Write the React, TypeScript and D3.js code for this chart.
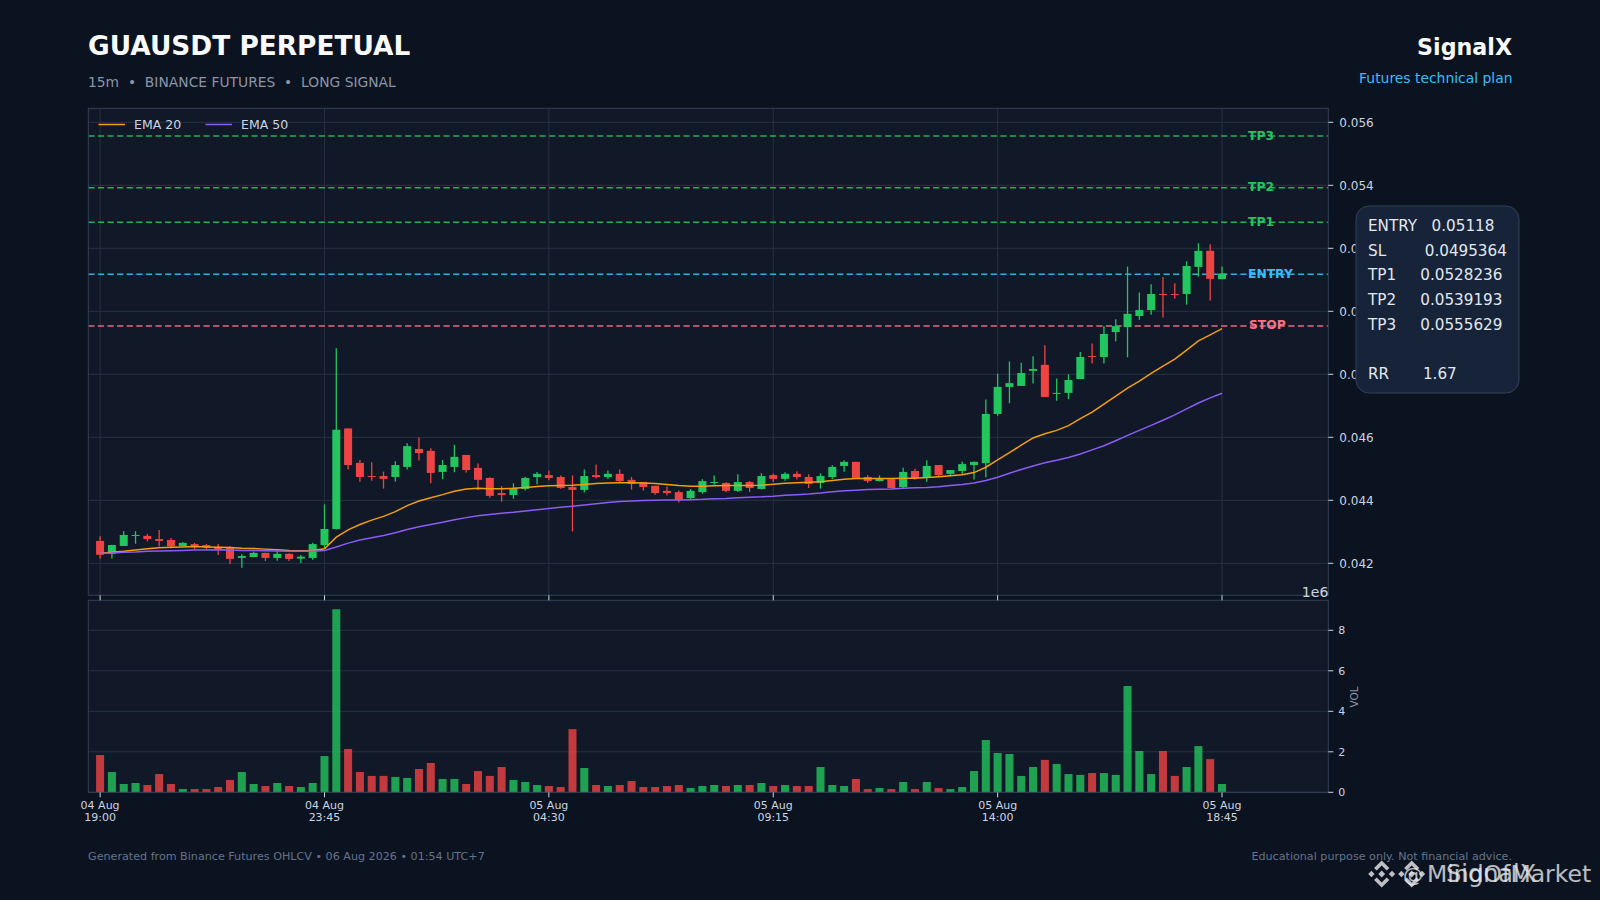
import { useEffect, useRef } from "react";
import * as d3 from "d3";

const opens = [
  0.04271, 0.0423, 0.04255, 0.04288, 0.04287, 0.04277, 0.04274, 0.04255, 0.04261, 0.04258, 0.04252, 0.04252,
  0.04217, 0.0422, 0.04233, 0.04217, 0.0423, 0.04215, 0.04217, 0.04258, 0.04309, 0.04628, 0.04519, 0.04477,
  0.04477, 0.04474, 0.04506, 0.04563, 0.04557, 0.0449, 0.04506, 0.04544, 0.04503, 0.04471, 0.04423, 0.04417,
  0.04436, 0.04474, 0.0448, 0.04474, 0.04442, 0.04433, 0.0448, 0.04474, 0.04484, 0.04465, 0.04458, 0.04446,
  0.0443, 0.04426, 0.04407, 0.04426, 0.04455, 0.04455, 0.0443, 0.04458, 0.04436, 0.0448, 0.04468, 0.04484,
  0.04474, 0.04455, 0.04474, 0.04509, 0.04522, 0.04474, 0.04461, 0.04467, 0.04442, 0.04493, 0.04471, 0.04512,
  0.04484, 0.04493, 0.04512, 0.04518, 0.04674, 0.0476, 0.04763, 0.04811, 0.0483, 0.04738, 0.04741, 0.04785,
  0.04858, 0.04855, 0.04934, 0.0495, 0.04985, 0.05004, 0.05055, 0.05055, 0.05055, 0.05141, 0.05192, 0.05102,
];
const highs = [
  0.04286, 0.04259, 0.04302, 0.04302, 0.04293, 0.04306, 0.0428, 0.04267, 0.04265, 0.04261, 0.04261, 0.04254,
  0.04229, 0.04237, 0.04234, 0.04238, 0.04232, 0.04226, 0.04265, 0.04387, 0.04883, 0.04628, 0.04528, 0.04521,
  0.04491, 0.04524, 0.04581, 0.04599, 0.04565, 0.04528, 0.04576, 0.04544, 0.04517, 0.04473, 0.04445, 0.04454,
  0.04475, 0.0449, 0.04495, 0.04479, 0.04479, 0.04498, 0.04514, 0.04495, 0.04498, 0.04474, 0.04458, 0.04446,
  0.04444, 0.04431, 0.04436, 0.04467, 0.04479, 0.04458, 0.04483, 0.04461, 0.04486, 0.04484, 0.04489, 0.04492,
  0.04483, 0.04486, 0.04511, 0.04527, 0.04522, 0.0448, 0.04479, 0.04467, 0.04503, 0.045, 0.04527, 0.04512,
  0.04496, 0.04523, 0.04523, 0.0472, 0.04802, 0.04841, 0.04837, 0.04857, 0.04892, 0.04787, 0.048, 0.04871,
  0.04898, 0.04953, 0.04975, 0.05142, 0.0506, 0.05086, 0.05109, 0.05089, 0.05159, 0.05216, 0.05213, 0.05142,
];
const lows = [
  0.04215, 0.04215, 0.04255, 0.04262, 0.04269, 0.04253, 0.04247, 0.04254, 0.04243, 0.04242, 0.04226, 0.04198,
  0.04186, 0.04219, 0.04207, 0.04208, 0.04207, 0.04201, 0.04211, 0.04245, 0.04307, 0.04498, 0.04459, 0.04462,
  0.04437, 0.0446, 0.04498, 0.04526, 0.04454, 0.04467, 0.04489, 0.04488, 0.04433, 0.04408, 0.04396, 0.04405,
  0.04431, 0.04451, 0.04464, 0.04437, 0.04301, 0.04425, 0.04469, 0.04468, 0.04458, 0.04434, 0.04431, 0.04418,
  0.04415, 0.04393, 0.04403, 0.04421, 0.04449, 0.04426, 0.04426, 0.04426, 0.04435, 0.04458, 0.04462, 0.04466,
  0.04439, 0.04437, 0.04468, 0.04491, 0.04468, 0.04455, 0.0446, 0.04438, 0.04439, 0.04465, 0.04459, 0.04475,
  0.04476, 0.0448, 0.04466, 0.04473, 0.04668, 0.04708, 0.04763, 0.04771, 0.04728, 0.04716, 0.04721, 0.04785,
  0.04834, 0.04834, 0.04905, 0.04854, 0.04973, 0.04989, 0.0498, 0.0504, 0.05021, 0.0511, 0.05034, 0.05102,
];
const closes = [
  0.04227, 0.04258, 0.0429, 0.0429, 0.04277, 0.04271, 0.04254, 0.04265, 0.04254, 0.0425, 0.04245, 0.04214,
  0.04223, 0.04233, 0.04217, 0.0423, 0.04214, 0.04221, 0.04261, 0.04309, 0.04624, 0.04512, 0.04474, 0.04474,
  0.04468, 0.04512, 0.04572, 0.0455, 0.04487, 0.04512, 0.04538, 0.04496, 0.04465, 0.04414, 0.04417, 0.04439,
  0.04471, 0.04484, 0.04471, 0.04439, 0.04433, 0.04477, 0.04474, 0.04484, 0.04461, 0.04452, 0.04442, 0.04423,
  0.04423, 0.04401, 0.0443, 0.04461, 0.04458, 0.0443, 0.04458, 0.04439, 0.04477, 0.04468, 0.04484, 0.04474,
  0.04452, 0.04477, 0.04506, 0.04522, 0.04471, 0.04461, 0.04468, 0.04439, 0.0449, 0.04471, 0.04509, 0.0448,
  0.04496, 0.04515, 0.04522, 0.04674, 0.0476, 0.04772, 0.04804, 0.04817, 0.04728, 0.04741, 0.04782, 0.04855,
  0.04855, 0.04928, 0.04953, 0.04992, 0.05004, 0.05055, 0.05053, 0.05052, 0.05144, 0.05192, 0.05103, 0.0512,
];
const ema20 = [
  0.04232, 0.04235, 0.04238, 0.04242, 0.04246, 0.04249, 0.04251, 0.04252, 0.04253, 0.04252, 0.04251, 0.0425,
  0.04248, 0.04247, 0.04245, 0.04243, 0.04241, 0.0424, 0.04241, 0.04246, 0.04283, 0.04306, 0.04323, 0.04337,
  0.04349, 0.04364, 0.04383, 0.04398, 0.04408, 0.04418, 0.04429, 0.04436, 0.04438, 0.04437, 0.04437, 0.04438,
  0.04441, 0.04444, 0.04446, 0.04447, 0.04448, 0.0445, 0.04453, 0.04455, 0.04456, 0.04456, 0.04455, 0.04453,
  0.0445, 0.04447, 0.04445, 0.04445, 0.04446, 0.04447, 0.04447, 0.04447, 0.04448, 0.04451, 0.04454, 0.04456,
  0.04457, 0.04459, 0.04463, 0.04467, 0.04469, 0.04469, 0.04469, 0.04469, 0.0447, 0.0447, 0.04472, 0.04475,
  0.04478, 0.04481, 0.04488, 0.04505, 0.04528, 0.04551, 0.04575, 0.04598, 0.04611, 0.04622, 0.04637, 0.04659,
  0.0468, 0.04705, 0.04731, 0.04756, 0.04778, 0.04803, 0.04826, 0.04848, 0.04877, 0.04906, 0.04925, 0.04945,
];
const ema50 = [
  0.04232, 0.04233, 0.04235, 0.04236, 0.04238, 0.04239, 0.0424, 0.04241, 0.04242, 0.04242, 0.04243, 0.04242,
  0.04241, 0.04241, 0.0424, 0.04239, 0.04238, 0.04238, 0.04238, 0.04241, 0.04252, 0.04264, 0.04274, 0.04281,
  0.04288, 0.04297, 0.04307, 0.04316, 0.04323, 0.0433, 0.04338, 0.04345, 0.04351, 0.04355, 0.04359, 0.04362,
  0.04366, 0.0437, 0.04374, 0.04378, 0.04381, 0.04385, 0.04389, 0.04393, 0.04396, 0.04398, 0.04399, 0.044,
  0.04401, 0.04401, 0.04402, 0.04403, 0.04405, 0.04406, 0.04408, 0.0441, 0.04411, 0.04413, 0.04416, 0.04418,
  0.0442, 0.04423, 0.04427, 0.0443, 0.04432, 0.04434, 0.04435, 0.04436, 0.04438, 0.0444, 0.04441, 0.04443,
  0.04447, 0.0445, 0.04455, 0.04463, 0.04473, 0.04486, 0.04498, 0.04509, 0.04519, 0.04527, 0.04536, 0.04547,
  0.0456, 0.04573, 0.04589, 0.04606, 0.04622, 0.04638, 0.04654, 0.04671, 0.0469, 0.04709, 0.04725, 0.0474,
];
const volumes = [
  1.84, 1.0, 0.41, 0.46, 0.36, 0.9, 0.41, 0.16, 0.16, 0.16, 0.26, 0.61,
  1.0, 0.41, 0.31, 0.46, 0.31, 0.26, 0.46, 1.79, 9.04, 2.14, 1.0, 0.81,
  0.81, 0.76, 0.71, 1.15, 1.45, 0.66, 0.66, 0.41, 1.05, 0.81, 1.25, 0.61,
  0.51, 0.36, 0.31, 0.26, 3.12, 1.2, 0.36, 0.31, 0.36, 0.56, 0.26, 0.26,
  0.31, 0.36, 0.21, 0.31, 0.36, 0.31, 0.36, 0.36, 0.46, 0.31, 0.36, 0.31,
  0.31, 1.25, 0.36, 0.31, 0.66, 0.16, 0.21, 0.16, 0.51, 0.16, 0.51, 0.21,
  0.16, 0.26, 1.05, 2.58, 1.94, 1.89, 0.81, 1.25, 1.6, 1.4, 0.9, 0.86,
  0.95, 0.95, 0.86, 5.25, 2.04, 0.9, 2.04, 0.81, 1.25, 2.28, 1.64, 0.41,
];

const xTickIndex = [0, 19, 38, 57, 76, 95];
const xTickDates = ["04 Aug", "04 Aug", "05 Aug", "05 Aug", "05 Aug", "05 Aug"];
const xTickTimes = ["19:00", "23:45", "04:30", "09:15", "14:00", "18:45"];
const priceTicks = [0.042, 0.044, 0.046, 0.048, 0.05, 0.052, 0.054, 0.056];
const volTicks = [0, 2, 4, 6, 8];

const levelNames = ["TP3", "TP2", "TP1", "ENTRY", "STOP"];
const levelValues = [0.0555629, 0.0539193, 0.0528236, 0.05118, 0.0495364];
const levelColors = ["#22c55e", "#22c55e", "#22c55e", "#38bdf8", "#fb7185"];

const panelLines = [
  "ENTRY   0.05118",
  "SL        0.0495364",
  "TP1     0.0528236",
  "TP2     0.0539193",
  "TP3     0.0555629",
  "",
  "RR       1.67",
];

const COLORS = {
  bg: "#0b1220",
  axes: "#111827",
  grid: "#263243",
  spine: "#334155",
  tick: "#cbd5e1",
  up: "#22c55e",
  down: "#ef4444",
  ema20: "#f59e0b",
  ema50: "#8b5cf6",
  sub: "#8b95a6",
  foot: "#64748b",
};

const FONT = "'DejaVu Sans', sans-serif";
const W = 1600;
const H = 900;

export default function App() {
  const svgRef = useRef<SVGSVGElement>(null);

  useEffect(() => {
    if (!svgRef.current) return;
    const svg = d3.select(svgRef.current);
    svg.selectAll("*").remove();
    svg.attr("font-family", FONT);

    svg.append("rect").attr("width", W).attr("height", H).attr("fill", COLORS.bg);

    const left = 88.3;
    const right = 1328.3;
    const main = { top: 108.3, bottom: 595.3 };
    const vol = { top: 600.3, bottom: 792.3 };

    const x = d3.scaleLinear().domain([-1, 104]).range([left, right]);
    const y = d3.scaleLinear().domain([0.042, 0.056]).range([563.3, 122.3]);
    const yv = d3.scaleLinear().domain([0, 8]).range([vol.bottom, 630.3]);

    const isUp = (i: number) => closes[i] >= opens[i];
    const idx = d3.range(opens.length);
    const candleW = 0.68 * (x(1) - x(0));

    // Panels
    svg.append("rect").attr("x", left).attr("y", main.top).attr("width", right - left).attr("height", main.bottom - main.top).attr("fill", COLORS.axes);
    svg.append("rect").attr("x", left).attr("y", vol.top).attr("width", right - left).attr("height", vol.bottom - vol.top).attr("fill", COLORS.axes);

    // Grid
    const g = svg.append("g");
    priceTicks.forEach((t) => {
      g.append("line").attr("x1", left).attr("x2", right).attr("y1", y(t)).attr("y2", y(t)).attr("stroke", COLORS.grid);
    });
    xTickIndex.forEach((t) => {
      g.append("line").attr("x1", x(t)).attr("x2", x(t)).attr("y1", main.top).attr("y2", main.bottom).attr("stroke", COLORS.grid);
    });
    volTicks.forEach((t) => {
      g.append("line").attr("x1", left).attr("x2", right).attr("y1", yv(t)).attr("y2", yv(t)).attr("stroke", COLORS.grid);
    });

    // Levels
    levelValues.forEach((v, i) => {
      g.append("line")
        .attr("x1", left)
        .attr("x2", right)
        .attr("y1", y(v))
        .attr("y2", y(v))
        .attr("stroke", levelColors[i])
        .attr("stroke-width", 1.5)
        .attr("stroke-dasharray", "6.2,3.4")
        .attr("opacity", 0.9);
    });

    // Candles
    const candles = svg.append("g");
    candles
      .selectAll("line")
      .data(idx)
      .enter()
      .append("line")
      .attr("x1", (i) => x(i))
      .attr("x2", (i) => x(i))
      .attr("y1", (i) => y(highs[i]))
      .attr("y2", (i) => y(lows[i]))
      .attr("stroke", (i) => (isUp(i) ? COLORS.up : COLORS.down))
      .attr("stroke-width", 1.3);
    candles
      .selectAll("rect")
      .data(idx)
      .enter()
      .append("rect")
      .attr("x", (i) => x(i) - candleW / 2)
      .attr("width", candleW)
      .attr("y", (i) => y(Math.max(opens[i], closes[i])))
      .attr("height", (i) => Math.max(1, Math.abs(y(opens[i]) - y(closes[i]))))
      .attr("fill", (i) => (isUp(i) ? COLORS.up : COLORS.down));

    // EMA
    const line = d3
      .line<number>()
      .x((_, i) => x(i))
      .y((d) => y(d));
    svg.append("path").datum(ema20).attr("fill", "none").attr("stroke", COLORS.ema20).attr("stroke-width", 1.5).attr("d", line);
    svg.append("path").datum(ema50).attr("fill", "none").attr("stroke", COLORS.ema50).attr("stroke-width", 1.5).attr("d", line);

    // Level labels
    levelNames.forEach((name, i) => {
      svg
        .append("text")
        .attr("x", name === "STOP" ? 1249 : 1248)
        .attr("y", y(levelValues[i]))
        .attr("dominant-baseline", "middle")
        .attr("fill", levelColors[i])
        .attr("font-size", 12.3)
        .attr("font-weight", 700)
        .text(name);
    });

    // Volume bars
    svg
      .append("g")
      .selectAll("rect")
      .data(idx)
      .enter()
      .append("rect")
      .attr("x", (i) => x(i) - candleW / 2)
      .attr("width", candleW)
      .attr("y", (i) => yv(volumes[i]))
      .attr("height", (i) => yv(0) - yv(volumes[i]))
      .attr("fill", (i) => (isUp(i) ? COLORS.up : COLORS.down))
      .attr("opacity", 0.8);

    // Spines
    [main, vol].forEach((p) => {
      svg.append("rect").attr("x", left).attr("y", p.top).attr("width", right - left).attr("height", p.bottom - p.top).attr("fill", "none").attr("stroke", COLORS.spine).attr("stroke-width", 1);
    });

    // Price axis
    priceTicks.forEach((t) => {
      svg.append("line").attr("x1", right).attr("x2", right + 5).attr("y1", y(t)).attr("y2", y(t)).attr("stroke", COLORS.tick);
      svg
        .append("text")
        .attr("x", right + 11)
        .attr("y", y(t))
        .attr("dy", "0.36em")
        .attr("fill", COLORS.tick)
        .attr("font-size", 12)
        .text(d3.format(".3f")(t));
    });
    svg.append("text").attr("x", right).attr("y", 597).attr("text-anchor", "end").attr("fill", COLORS.tick).attr("font-size", 14).text("1e6");

    // Volume axis
    volTicks.forEach((t) => {
      svg.append("line").attr("x1", right).attr("x2", right + 5).attr("y1", yv(t)).attr("y2", yv(t)).attr("stroke", COLORS.tick);
      svg
        .append("text")
        .attr("x", right + 10)
        .attr("y", yv(t))
        .attr("dy", "0.36em")
        .attr("fill", COLORS.tick)
        .attr("font-size", 11)
        .text(String(t));
    });
    svg
      .append("text")
      .attr("transform", `translate(1358,697) rotate(-90)`)
      .attr("text-anchor", "middle")
      .attr("fill", COLORS.sub)
      .attr("font-size", 10.5)
      .text("VOL");

    // Time axis
    xTickIndex.forEach((t, i) => {
      svg.append("line").attr("x1", x(t)).attr("x2", x(t)).attr("y1", main.bottom).attr("y2", main.bottom + 5).attr("stroke", COLORS.tick);
      svg.append("line").attr("x1", x(t)).attr("x2", x(t)).attr("y1", vol.bottom).attr("y2", vol.bottom + 5).attr("stroke", COLORS.tick);
      svg.append("text").attr("x", x(t)).attr("y", 809).attr("text-anchor", "middle").attr("fill", COLORS.tick).attr("font-size", 11).text(xTickDates[i]);
      svg.append("text").attr("x", x(t)).attr("y", 821).attr("text-anchor", "middle").attr("fill", COLORS.tick).attr("font-size", 11).text(xTickTimes[i]);
    });

    // Legend
    svg.append("line").attr("x1", 98.5).attr("x2", 125).attr("y1", 124.5).attr("y2", 124.5).attr("stroke", COLORS.ema20).attr("stroke-width", 1.5);
    svg.append("text").attr("x", 134).attr("y", 129).attr("fill", COLORS.tick).attr("font-size", 12.5).text("EMA 20");
    svg.append("line").attr("x1", 205.5).attr("x2", 232).attr("y1", 124.5).attr("y2", 124.5).attr("stroke", COLORS.ema50).attr("stroke-width", 1.5);
    svg.append("text").attr("x", 241).attr("y", 129).attr("fill", COLORS.tick).attr("font-size", 12.5).text("EMA 50");

    // Info panel
    svg
      .append("rect")
      .attr("x", 1356)
      .attr("y", 206)
      .attr("width", 163)
      .attr("height", 187)
      .attr("rx", 13)
      .attr("fill", "#162338")
      .attr("stroke", "#334155");
    panelLines.forEach((t, i) => {
      svg
        .append("text")
        .attr("x", 1368)
        .attr("y", 225.5 + i * 24.7)
        .attr("dy", "0.36em")
        .attr("fill", "#e2e8f0")
        .attr("font-size", 15.2)
        .style("white-space", "pre")
        .text(t);
    });

    // Titles
    svg.append("text").attr("x", 88).attr("y", 54.5).attr("fill", "#f8fafc").attr("font-size", 26.4).attr("font-weight", 700).text("GUAUSDT PERPETUAL");
    svg.append("text").attr("x", 88).attr("y", 86.5).attr("fill", COLORS.sub).attr("font-size", 13.85).style("white-space", "pre").text("15m  •  BINANCE FUTURES  •  LONG SIGNAL");
    svg.append("text").attr("x", 1512).attr("y", 55).attr("text-anchor", "end").attr("fill", "#f8fafc").attr("font-size", 22.2).attr("font-weight", 700).text("SignalX");
    svg.append("text").attr("x", 1512.5).attr("y", 83).attr("text-anchor", "end").attr("fill", "#38bdf8").attr("font-size", 13.9).text("Futures technical plan");

    // Footer
    svg.append("text").attr("x", 88).attr("y", 860).attr("fill", COLORS.foot).attr("font-size", 11.15).text("Generated from Binance Futures OHLCV • 06 Aug 2026 • 01:54 UTC+7");
    svg.append("text").attr("x", 1512).attr("y", 860).attr("text-anchor", "end").attr("fill", COLORS.foot).attr("font-size", 11.15).text("Educational purpose only. Not financial advice.");

    // Watermark
    const logoPath = d3.path();
    const poly = (pts: number[][]) => {
      pts.forEach(([px, py], i) => (i === 0 ? logoPath.moveTo(px, py) : logoPath.lineTo(px, py)));
      logoPath.closePath();
    };
    const diamond = (cx: number, h: number) => poly([[cx, -h], [cx + h, 0], [cx, h], [cx - h, 0]]);
    diamond(0, 3.4);
    diamond(-10.3, 3.2);
    diamond(10.3, 3.2);
    poly([[0, -13.6], [7.6, -6], [5, -3.4], [0, -8.4], [-5, -3.4], [-7.6, -6]]);
    poly([[0, 13.6], [7.6, 6], [5, 3.4], [0, 8.4], [-5, 3.4], [-7.6, 6]]);
    [1381.7, 1411.7].forEach((cx) => {
      svg.append("path").attr("d", logoPath.toString()).attr("transform", `translate(${cx},874)`).attr("fill", "#e5e7eb").attr("opacity", 0.82);
    });
    svg.append("text").attr("x", 1403).attr("y", 882).attr("fill", "#e5e7eb").attr("opacity", 0.8).attr("font-size", 20).text("@");
    svg.append("text").attr("x", 1446).attr("y", 882).attr("fill", "#e5e7eb").attr("opacity", 0.8).attr("font-size", 24).text("SignalX");
    svg.append("text").attr("x", 1427).attr("y", 882).attr("fill", "#e5e7eb").attr("opacity", 0.8).attr("font-size", 23.5).text("MindOfMarket");
  }, []);

  return <svg ref={svgRef} width={W} height={H} viewBox={`0 0 ${W} ${H}`} style={{ position: "fixed", left: 0, top: 0 }} />;
}
